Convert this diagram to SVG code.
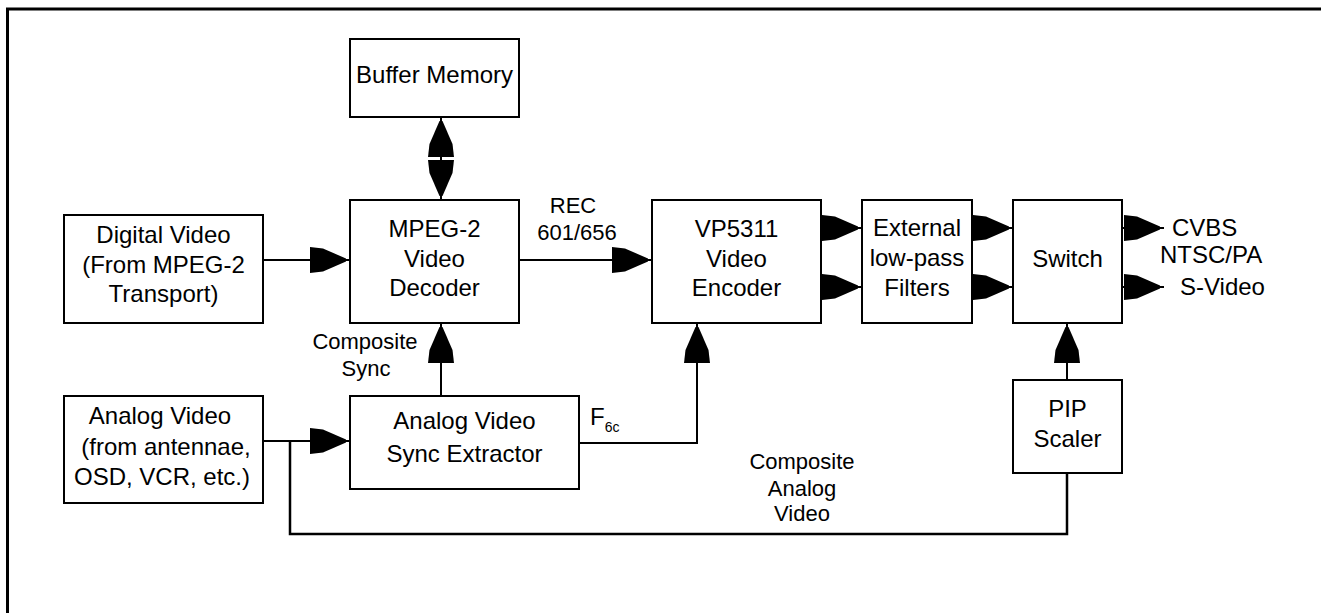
<svg xmlns="http://www.w3.org/2000/svg" width="1321" height="613" viewBox="0 0 1321 613">
<style>
.box{fill:#fff;stroke:#000;stroke-width:2}
.t{font-family:"Liberation Sans",Arial,sans-serif;font-size:24px;fill:#000;text-anchor:middle}
.l{font-family:"Liberation Sans",Arial,sans-serif;font-size:22px;fill:#000;text-anchor:middle}
.s{font-family:"Liberation Sans",Arial,sans-serif;font-size:24px;fill:#000}
.c{fill:none;stroke:#000;stroke-width:2}
.frame{fill:none;stroke:#000;stroke-width:3}
</style>
<defs>
<marker id="ah" markerUnits="userSpaceOnUse" viewBox="0 0 40 26" refX="40" refY="13" markerWidth="40" markerHeight="26" orient="auto-start-reverse">
<path d="M0,0 L13,1.5 L36,11.5 L36,14.5 L13,24.5 L0,26 Z" fill="#000"/>
</marker>
</defs>
<rect width="1321" height="613" fill="#fff"/>
<path class="frame" d="M7.5,613 L7.5,9 L1321,9"/>

<g id="connectors">
<line class="c" x1="263" y1="260" x2="350" y2="260" marker-end="url(#ah)"/>
<line class="c" x1="519" y1="260" x2="652" y2="260" marker-end="url(#ah)"/>
<line class="c" x1="441" y1="117" x2="441" y2="200" marker-start="url(#ah)" marker-end="url(#ah)"/>
<line class="c" x1="821" y1="228" x2="862" y2="228" marker-end="url(#ah)"/>
<line class="c" x1="821" y1="287" x2="862" y2="287" marker-end="url(#ah)"/>
<line class="c" x1="972" y1="228" x2="1013" y2="228" marker-end="url(#ah)"/>
<line class="c" x1="972" y1="287" x2="1013" y2="287" marker-end="url(#ah)"/>
<line class="c" x1="1122" y1="228" x2="1164" y2="228" marker-end="url(#ah)"/>
<line class="c" x1="1122" y1="287" x2="1164" y2="287" marker-end="url(#ah)"/>
<line class="c" x1="441" y1="396" x2="441" y2="323" marker-end="url(#ah)"/>
<line class="c" x1="263" y1="441" x2="350" y2="441" marker-end="url(#ah)"/>
<polyline class="c" points="579,443 697,443 697,323" marker-end="url(#ah)"/>
<polyline class="c" points="290,441 290,534 1067,534 1067,473" style="stroke-width:2.5"/>
<line class="c" x1="1067" y1="380" x2="1067" y2="323" marker-end="url(#ah)"/>
<text class="l" x="573" y="213">REC</text>
<text class="l" x="577" y="240">601/656</text>
<text class="l" x="365" y="349">Composite</text>
<text class="l" x="366" y="376">Sync</text>
<text class="s" x="590" y="425">F<tspan font-size="14" dy="7">6c</tspan></text>
<text class="l" x="802" y="469">Composite</text>
<text class="l" x="802" y="496">Analog</text>
<text class="l" x="802" y="521">Video</text>
<text class="s" x="1172" y="236">CVBS</text>
<text class="s" x="1160" y="263">NTSC/PA</text>
<text class="s" x="1180" y="295">S-Video</text>
</g>

<g id="buffer-memory">
<rect class="box" x="350" y="39" width="169" height="78"/>
<text class="t" x="434.5" y="83">Buffer Memory</text>
</g>
<g id="mpeg2-decoder">
<rect class="box" x="350" y="200" width="169" height="123"/>
<text class="t" x="434.5" y="237">MPEG-2</text>
<text class="t" x="434.5" y="267">Video</text>
<text class="t" x="434.5" y="296">Decoder</text>
</g>
<g id="digital-video">
<rect class="box" x="64" y="215" width="199" height="108"/>
<text class="t" x="163.5" y="243">Digital Video</text>
<text class="t" x="163.5" y="273">(From MPEG-2</text>
<text class="t" x="163.5" y="302">Transport)</text>
</g>
<g id="analog-video">
<rect class="box" x="64" y="396" width="199" height="107"/>
<text class="t" x="160" y="424">Analog Video</text>
<text class="t" x="166" y="455">(from antennae,</text>
<text class="t" x="162" y="485">OSD, VCR, etc.)</text>
</g>
<g id="sync-extractor">
<rect class="box" x="350" y="396" width="229" height="93"/>
<text class="t" x="464.5" y="429">Analog Video</text>
<text class="t" x="464.5" y="462">Sync Extractor</text>
</g>
<g id="video-encoder">
<rect class="box" x="652" y="200" width="169" height="123"/>
<text class="t" x="736.5" y="237">VP5311</text>
<text class="t" x="736.5" y="267">Video</text>
<text class="t" x="736.5" y="296">Encoder</text>
</g>
<g id="filters">
<rect class="box" x="862" y="200" width="110" height="123"/>
<text class="t" x="917" y="236">External</text>
<text class="t" x="917" y="266">low-pass</text>
<text class="t" x="917" y="296">Filters</text>
</g>
<g id="switch">
<rect class="box" x="1013" y="200" width="109" height="123"/>
<text class="t" x="1067.5" y="267">Switch</text>
</g>
<g id="pip-scaler">
<rect class="box" x="1013" y="380" width="109" height="93"/>
<text class="t" x="1067.5" y="417">PIP</text>
<text class="t" x="1067.5" y="447">Scaler</text>
</g>
</svg>
